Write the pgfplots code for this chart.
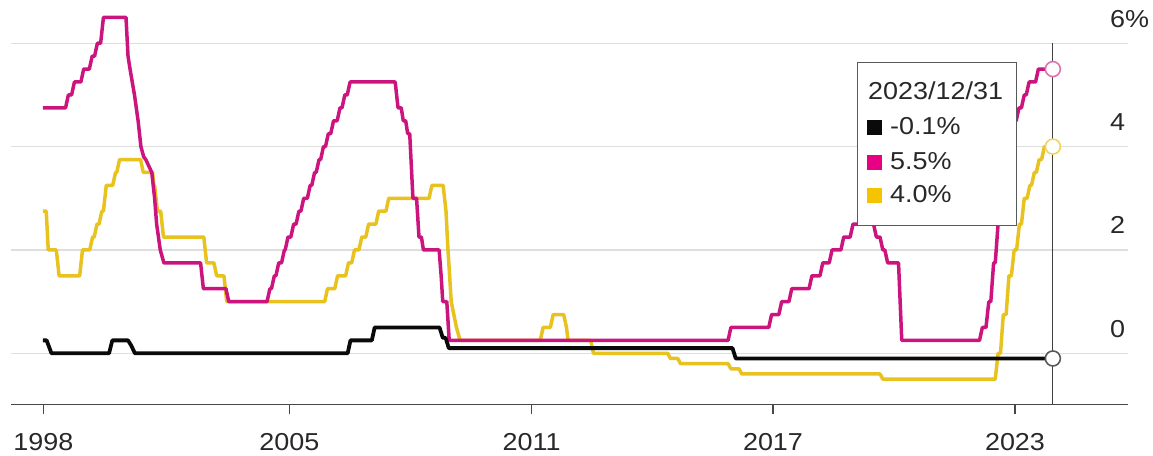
\documentclass[border=0pt]{standalone}
\usepackage{fontspec}
\setmainfont{Liberation Sans}[FakeStretch=1.1]
\usepackage{pgfplots}
\pgfplotsset{compat=1.18}
\definecolor{fedc}{RGB}{204,20,126}
\definecolor{fedsq}{RGB}{232,0,132}
\definecolor{ecbc}{RGB}{232,194,30}
\definecolor{ecbsq}{RGB}{245,195,0}
\definecolor{bojc}{RGB}{10,10,10}
\definecolor{gridc}{RGB}{222,222,222}
\definecolor{txt}{RGB}{40,40,40}
\newcommand{\lf}{\fontsize{24.5}{29}\selectfont}
\begin{document}
\begin{tikzpicture}
\useasboundingbox (-11pt,-50.7pt) rectangle (1142pt,404.3pt);
\begin{axis}[
  at={(0,0)}, anchor=south west,
  scale only axis, width=1117pt, height=402.4pt,
  xmin=1998.146, xmax=2025.864, ymin=-0.987, ymax=6.8,
  axis x line*=bottom, axis y line*=right,
  x axis line style={-, line width=1.5pt, color=black!72},
  y axis line style={draw=none},
  xtick={1998.948,2005.052,2011.067,2017.055,2023.06},
  xticklabels={1998,2005,2011,2017,2023},
  ytick={0,2,4,6}, yticklabels={0,2,4,6\%},
  tick align=outside, major tick length=10pt,
  xtick style={line width=1.5pt, color=black!72},
  ytick style={draw=none},
  ymajorgrids, major grid style={gridc, line width=1.4pt},
  tick label style={font=\lf, text=txt},
  xticklabel style={anchor=base, inner sep=0pt, yshift=-36pt},
  yticklabel style={anchor=base west, inner sep=0pt, xshift=-28pt, yshift=16pt},
  /pgf/number format/assume math mode=true,
  clip=false,
]
% ECB deposit rate
\addplot[ecbc, line width=3.5pt, line join=round] coordinates {
(1998.94,2.75)(1999.02,2.75)(1999.07,2.00)(1999.27,2.00)(1999.34,1.50)
(1999.85,1.50)(1999.92,2.00)(2000.10,2.00)(2000.17,2.25)(2000.21,2.25)(2000.28,2.50)
(2000.33,2.50)(2000.40,2.75)(2000.44,2.75)(2000.51,3.25)(2000.67,3.25)(2000.74,3.50)
(2000.77,3.50)(2000.84,3.75)(2001.36,3.75)(2001.43,3.50)(2001.66,3.50)(2001.69,3.25)
(2001.71,3.25)(2001.78,2.75)(2001.86,2.75)(2001.93,2.25)(2002.93,2.25)(2003.00,1.75)
(2003.18,1.75)(2003.25,1.50)(2003.43,1.50)(2003.50,1.00)(2005.93,1.00)(2006.00,1.25)
(2006.18,1.25)(2006.25,1.50)(2006.45,1.50)(2006.52,1.75)(2006.60,1.75)(2006.67,2.00)
(2006.78,2.00)(2006.85,2.25)(2006.95,2.25)(2007.02,2.50)(2007.20,2.50)(2007.27,2.75)
(2007.45,2.75)(2007.52,3.00)(2008.52,3.00)(2008.59,3.25)(2008.87,3.25)(2008.94,2.75)
(2008.99,2.00)(2009.07,1.00)(2009.20,0.50)(2009.29,0.25)(2011.28,0.25)(2011.35,0.50)
(2011.53,0.50)(2011.60,0.75)(2011.86,0.75)(2011.93,0.50)(2011.97,0.25)(2012.53,0.25)
(2012.60,0.00)(2014.44,0.00)(2014.51,-0.10)(2014.69,-0.10)(2014.76,-0.20)(2015.94,-0.20)
(2016.01,-0.30)(2016.21,-0.30)(2016.28,-0.40)(2019.71,-0.40)(2019.78,-0.50)(2022.57,-0.50)
(2022.64,0.00)(2022.70,0.00)(2022.77,0.75)(2022.84,0.75)(2022.91,1.50)(2022.97,1.50)
(2023.04,2.00)(2023.10,2.00)(2023.17,2.50)(2023.22,2.50)(2023.29,3.00)(2023.36,3.00)
(2023.43,3.25)(2023.47,3.25)(2023.54,3.50)(2023.59,3.50)(2023.66,3.75)(2023.72,3.75)
(2023.79,4.00)(2024.00,4.00)
};
% Fed
\addplot[fedc, line width=3.5pt, line join=round] coordinates {
(1998.94,4.75)(1999.50,4.75)(1999.57,5.00)(1999.65,5.00)(1999.72,5.25)(1999.88,5.25)
(1999.95,5.50)(2000.09,5.50)(2000.16,5.75)(2000.22,5.75)(2000.29,6.00)(2000.37,6.00)
(2000.44,6.50)(2001.00,6.50)(2001.05,5.75)(2001.10,5.50)(2001.21,5.00)(2001.30,4.50)
(2001.37,4.00)(2001.44,3.80)(2001.49,3.75)(2001.64,3.50)(2001.71,3.00)(2001.76,2.50)
(2001.85,2.00)(2001.94,1.75)(2002.85,1.75)(2002.92,1.25)(2003.48,1.25)(2003.55,1.00)
(2004.50,1.00)(2004.57,1.25)(2004.61,1.25)(2004.68,1.50)(2004.72,1.50)(2004.79,1.75)
(2004.86,1.75)(2004.93,2.00)(2004.95,2.00)(2005.02,2.25)(2005.09,2.25)(2005.16,2.50)
(2005.22,2.50)(2005.29,2.75)(2005.34,2.75)(2005.41,3.00)(2005.50,3.00)(2005.57,3.25)
(2005.61,3.25)(2005.68,3.50)(2005.72,3.50)(2005.79,3.75)(2005.83,3.75)(2005.90,4.00)
(2005.95,4.00)(2006.02,4.25)(2006.08,4.25)(2006.15,4.50)(2006.24,4.50)(2006.31,4.75)
(2006.36,4.75)(2006.43,5.00)(2006.49,5.00)(2006.56,5.25)(2007.68,5.25)(2007.75,4.75)
(2007.83,4.75)(2007.88,4.50)(2007.94,4.50)(2007.99,4.25)(2008.04,4.25)(2008.12,3.00)
(2008.21,3.00)(2008.27,2.25)(2008.33,2.25)(2008.38,2.00)(2008.77,2.00)(2008.82,1.50)
(2008.86,1.00)(2008.96,1.00)(2009.02,0.25)(2015.94,0.25)(2016.01,0.50)(2016.95,0.50)
(2017.02,0.75)(2017.20,0.75)(2017.27,1.00)(2017.45,1.00)(2017.52,1.25)(2017.95,1.25)
(2018.02,1.50)(2018.22,1.50)(2018.29,1.75)(2018.45,1.75)(2018.52,2.00)(2018.74,2.00)
(2018.81,2.25)(2018.97,2.25)(2019.04,2.50)(2019.55,2.50)(2019.62,2.25)(2019.71,2.25)
(2019.78,2.00)(2019.83,2.00)(2019.90,1.75)(2020.17,1.75)(2020.25,0.25)(2022.18,0.25)
(2022.25,0.50)(2022.34,0.50)(2022.41,1.00)(2022.46,1.00)(2022.53,1.75)(2022.57,1.75)
(2022.64,2.50)(2022.72,2.50)(2022.79,3.25)(2022.84,3.25)(2022.91,4.00)(2022.95,4.00)
(2023.02,4.50)(2023.09,4.50)(2023.16,4.75)(2023.22,4.75)(2023.29,5.00)(2023.34,5.00)
(2023.41,5.25)(2023.57,5.25)(2023.64,5.50)(2024.00,5.50)
};
% BOJ
\addplot[bojc, line width=3.8pt, line join=round] coordinates {
(1998.94,0.25)(1999.03,0.25)(1999.15,0.00)(2000.58,0.00)(2000.66,0.25)(2001.05,0.25)
(2001.13,0.15)(2001.22,0.00)(2006.50,0.00)(2006.57,0.25)(2007.10,0.25)(2007.17,0.50)
(2008.78,0.50)(2008.86,0.30)(2008.93,0.30)(2009.01,0.10)(2016.05,0.10)(2016.13,-0.10)
(2024.00,-0.10)
};
% vertical marker line
\addplot[black!75, line width=1.2pt] coordinates {(2024,-0.987)(2024,6)};
% end markers
\addplot[only marks, mark=*, mark size=7.5pt, mark options={fill=white, draw=fedc!60, line width=1.6pt}] coordinates {(2024,5.5)};
\addplot[only marks, mark=*, mark size=7.5pt, mark options={fill=white, draw=ecbc!70, line width=1.6pt}] coordinates {(2024,4.0)};
\addplot[only marks, mark=*, mark size=7.5pt, mark options={fill=white, draw=black!65, line width=1.6pt}] coordinates {(2024,-0.1)};
% legend box
\node[draw=black!65, line width=1pt, fill=white, anchor=north west,
      minimum width=159pt, minimum height=163pt, inner sep=0pt] (leg) at (axis cs:2019.139,5.638) {};
\node[anchor=base west, inner sep=0pt, font=\lf, text=txt] at ([xshift=11pt,yshift=-38pt]leg.north west) {2023/12/31};
\node[anchor=base west, inner sep=0pt, font=\lf, text=txt] at ([xshift=10pt,yshift=-73pt]leg.north west) {\textcolor{bojc}{\rule{15pt}{15pt}}\hspace{8pt}-0.1\%};
\node[anchor=base west, inner sep=0pt, font=\lf, text=txt] at ([xshift=10pt,yshift=-108pt]leg.north west) {\textcolor{fedsq}{\rule{15pt}{15pt}}\hspace{8pt}5.5\%};
\node[anchor=base west, inner sep=0pt, font=\lf, text=txt] at ([xshift=10pt,yshift=-141pt]leg.north west) {\textcolor{ecbsq}{\rule{15pt}{15pt}}\hspace{8pt}4.0\%};
\end{axis}
\end{tikzpicture}
\end{document}
